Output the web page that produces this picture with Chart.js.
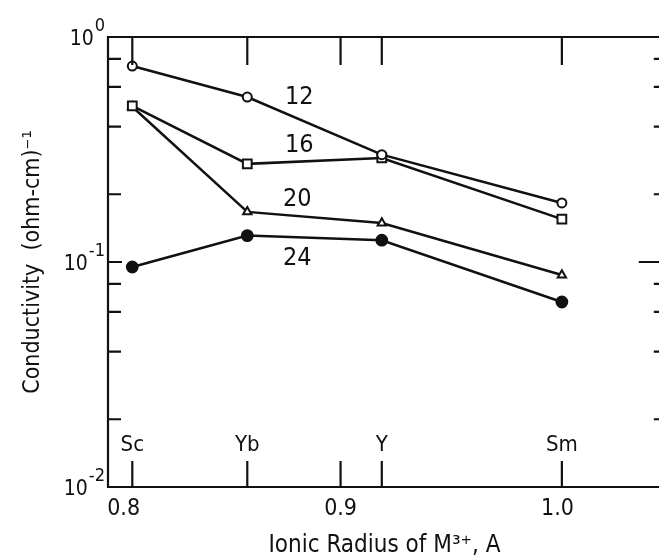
<!DOCTYPE html>
<html><head><meta charset="utf-8">
<script src="https://cdn.jsdelivr.net/npm/chart.js@4.4.1/dist/chart.umd.min.js"></script>
<style>
html,body{margin:0;padding:0;background:#fff;overflow:hidden;}
#wrap{width:659px;height:560px;position:relative;overflow:hidden;}
</style></head><body>
<div id="wrap"><canvas id="c" width="669" height="560"></canvas></div>
<script>
// ---- data ----
const elements = ['Sc', 'Yb', 'Y', 'Sm'];
const radii = [0.804, 0.857, 0.919, 1.002];
const series12 = [0.743, 0.541, 0.300, 0.183];
const series16 = [0.494, 0.273, 0.290, 0.155];
const series20 = [0.490, 0.167, 0.149, 0.0875];
const series24 = [0.095, 0.131, 0.125, 0.0664];
const seriesNames = ['12', '16', '20', '24'];
const seriesLabelX = [0.881, 0.881, 0.880, 0.880];
const seriesLabelY = [0.541, 0.331, 0.189, 0.104];
const xTickValues = [0.8, 0.9, 1.0];
const xTickLabels = ['0.8', '0.9', '1.0'];
const xExtraTicks = [0.9];
const yTickValues = [1, 0.1, 0.01];
const yTickBase = ['10', '10', '10'];
const yTickExp = ['0', '-1', '-2'];
const yMinorTicks = [0.8, 0.6, 0.4, 0.2, 0.08, 0.06, 0.04, 0.02];

const FONT = "'Liberation Sans Narrow','DejaVu Sans Condensed','Liberation Sans','DejaVu Sans',sans-serif";
const INK = '#111';

function pts(vals) { return radii.map((r, i) => ({ x: r, y: vals[i] })); }

const decor = {
  id: 'decor',
  afterDatasetsDraw(chart) {
    const { ctx, chartArea: a, scales: { x, y } } = chart;
    ctx.save();
    ctx.strokeStyle = INK;
    ctx.fillStyle = INK;
    ctx.lineWidth = 2.2;
    ctx.beginPath();
    // frame
    ctx.rect(a.left, a.top, a.right - a.left, a.bottom - a.top);
    // y ticks (left & right, pointing inward)
    yMinorTicks.forEach(v => {
      const py = y.getPixelForValue(v);
      ctx.moveTo(a.left, py); ctx.lineTo(a.left + 13, py);
      ctx.moveTo(a.right, py); ctx.lineTo(a.right - 7, py);
    });
    yTickValues.forEach(v => {
      const py = y.getPixelForValue(v);
      ctx.moveTo(a.left, py); ctx.lineTo(a.left + 14, py);
      ctx.moveTo(a.right, py); ctx.lineTo(a.right - 22, py);
    });
    // x ticks (bottom & top, pointing inward)
    radii.concat(xExtraTicks).forEach(v => {
      const px = x.getPixelForValue(v);
      ctx.moveTo(px, a.bottom); ctx.lineTo(px, a.bottom - 26);
      ctx.moveTo(px, a.top); ctx.lineTo(px, a.top + 28);
    });
    ctx.stroke();
    // y tick labels with superscript exponents
    ctx.textBaseline = 'middle';
    yTickValues.forEach((v, i) => {
      const py = y.getPixelForValue(v);
      ctx.font = "18px " + FONT;
      const ew = ctx.measureText(yTickExp[i]).width;
      ctx.textAlign = 'right';
      ctx.fillText(yTickExp[i], a.left - 3, py - 11);
      ctx.font = "21px " + FONT;
      ctx.fillText(yTickBase[i], a.left - 4 - ew, py + 3);
    });
    // element labels above bottom ticks
    ctx.font = "22px " + FONT;
    ctx.textAlign = 'center';
    elements.forEach((e, i) => {
      ctx.fillText(e, x.getPixelForValue(radii[i]), a.bottom - 42);
    });
    // series labels
    ctx.font = "25px " + FONT;
    seriesNames.forEach((n, i) => {
      ctx.fillText(n, x.getPixelForValue(seriesLabelX[i]), y.getPixelForValue(seriesLabelY[i]));
    });
    ctx.restore();
  }
};

const common = { borderColor: INK, borderWidth: 2.5, pointBorderColor: INK, pointBorderWidth: 2, showLine: true, tension: 0 };

new Chart(document.getElementById('c'), {
  type: 'scatter',
  data: {
    datasets: [
      Object.assign({ label: seriesNames[0], data: pts(series12), pointStyle: 'circle', pointRadius: 4.5, pointBackgroundColor: '#fff' }, common),
      Object.assign({ label: seriesNames[1], data: pts(series16), pointStyle: 'rect', pointRadius: 6.2, pointBackgroundColor: '#fff' }, common),
      Object.assign({ label: seriesNames[2], data: pts(series20), pointStyle: 'triangle', pointRadius: 4.8, pointBackgroundColor: '#fff' }, common),
      Object.assign({ label: seriesNames[3], data: pts(series24), pointStyle: 'circle', pointRadius: 5.4, pointBackgroundColor: INK }, common)
    ]
  },
  options: {
    responsive: false,
    animation: false,
    layout: { padding: { top: 37, right: 0, left: 0, bottom: 0 } },
    plugins: { legend: { display: false }, tooltip: { enabled: false } },
    scales: {
      x: {
        type: 'linear', min: 0.7928, max: 1.0476,
        afterFit: s => { s.height = 73; },
        afterBuildTicks: s => { s.ticks = xTickValues.map(v => ({ value: v })); },
        grid: { display: false, drawTicks: false },
        border: { display: false },
        ticks: { padding: 8, color: INK, font: { family: FONT, size: 23 }, maxRotation: 0, autoSkip: false,
          callback: (v, i) => xTickLabels[i] },
        title: { display: true, text: 'Ionic Radius of M\u00B3\u207A, A', color: INK, font: { family: FONT, size: 24 }, padding: { top: 0, bottom: 0 } }
      },
      y: {
        type: 'logarithmic', min: 0.01, max: 1,
        afterFit: s => { s.width = 108; },
        afterBuildTicks: s => { s.ticks = yTickValues.map(v => ({ value: v })); },
        grid: { display: false, drawTicks: false },
        border: { display: false },
        ticks: { display: false },
        title: { display: true, text: 'Conductivity  (ohm-cm)\u207B\u00B9', color: INK, font: { family: FONT, size: 23 }, padding: { top: 19, bottom: 0 } }
      }
    }
  },
  plugins: [decor]
});
</script>
</body></html>
